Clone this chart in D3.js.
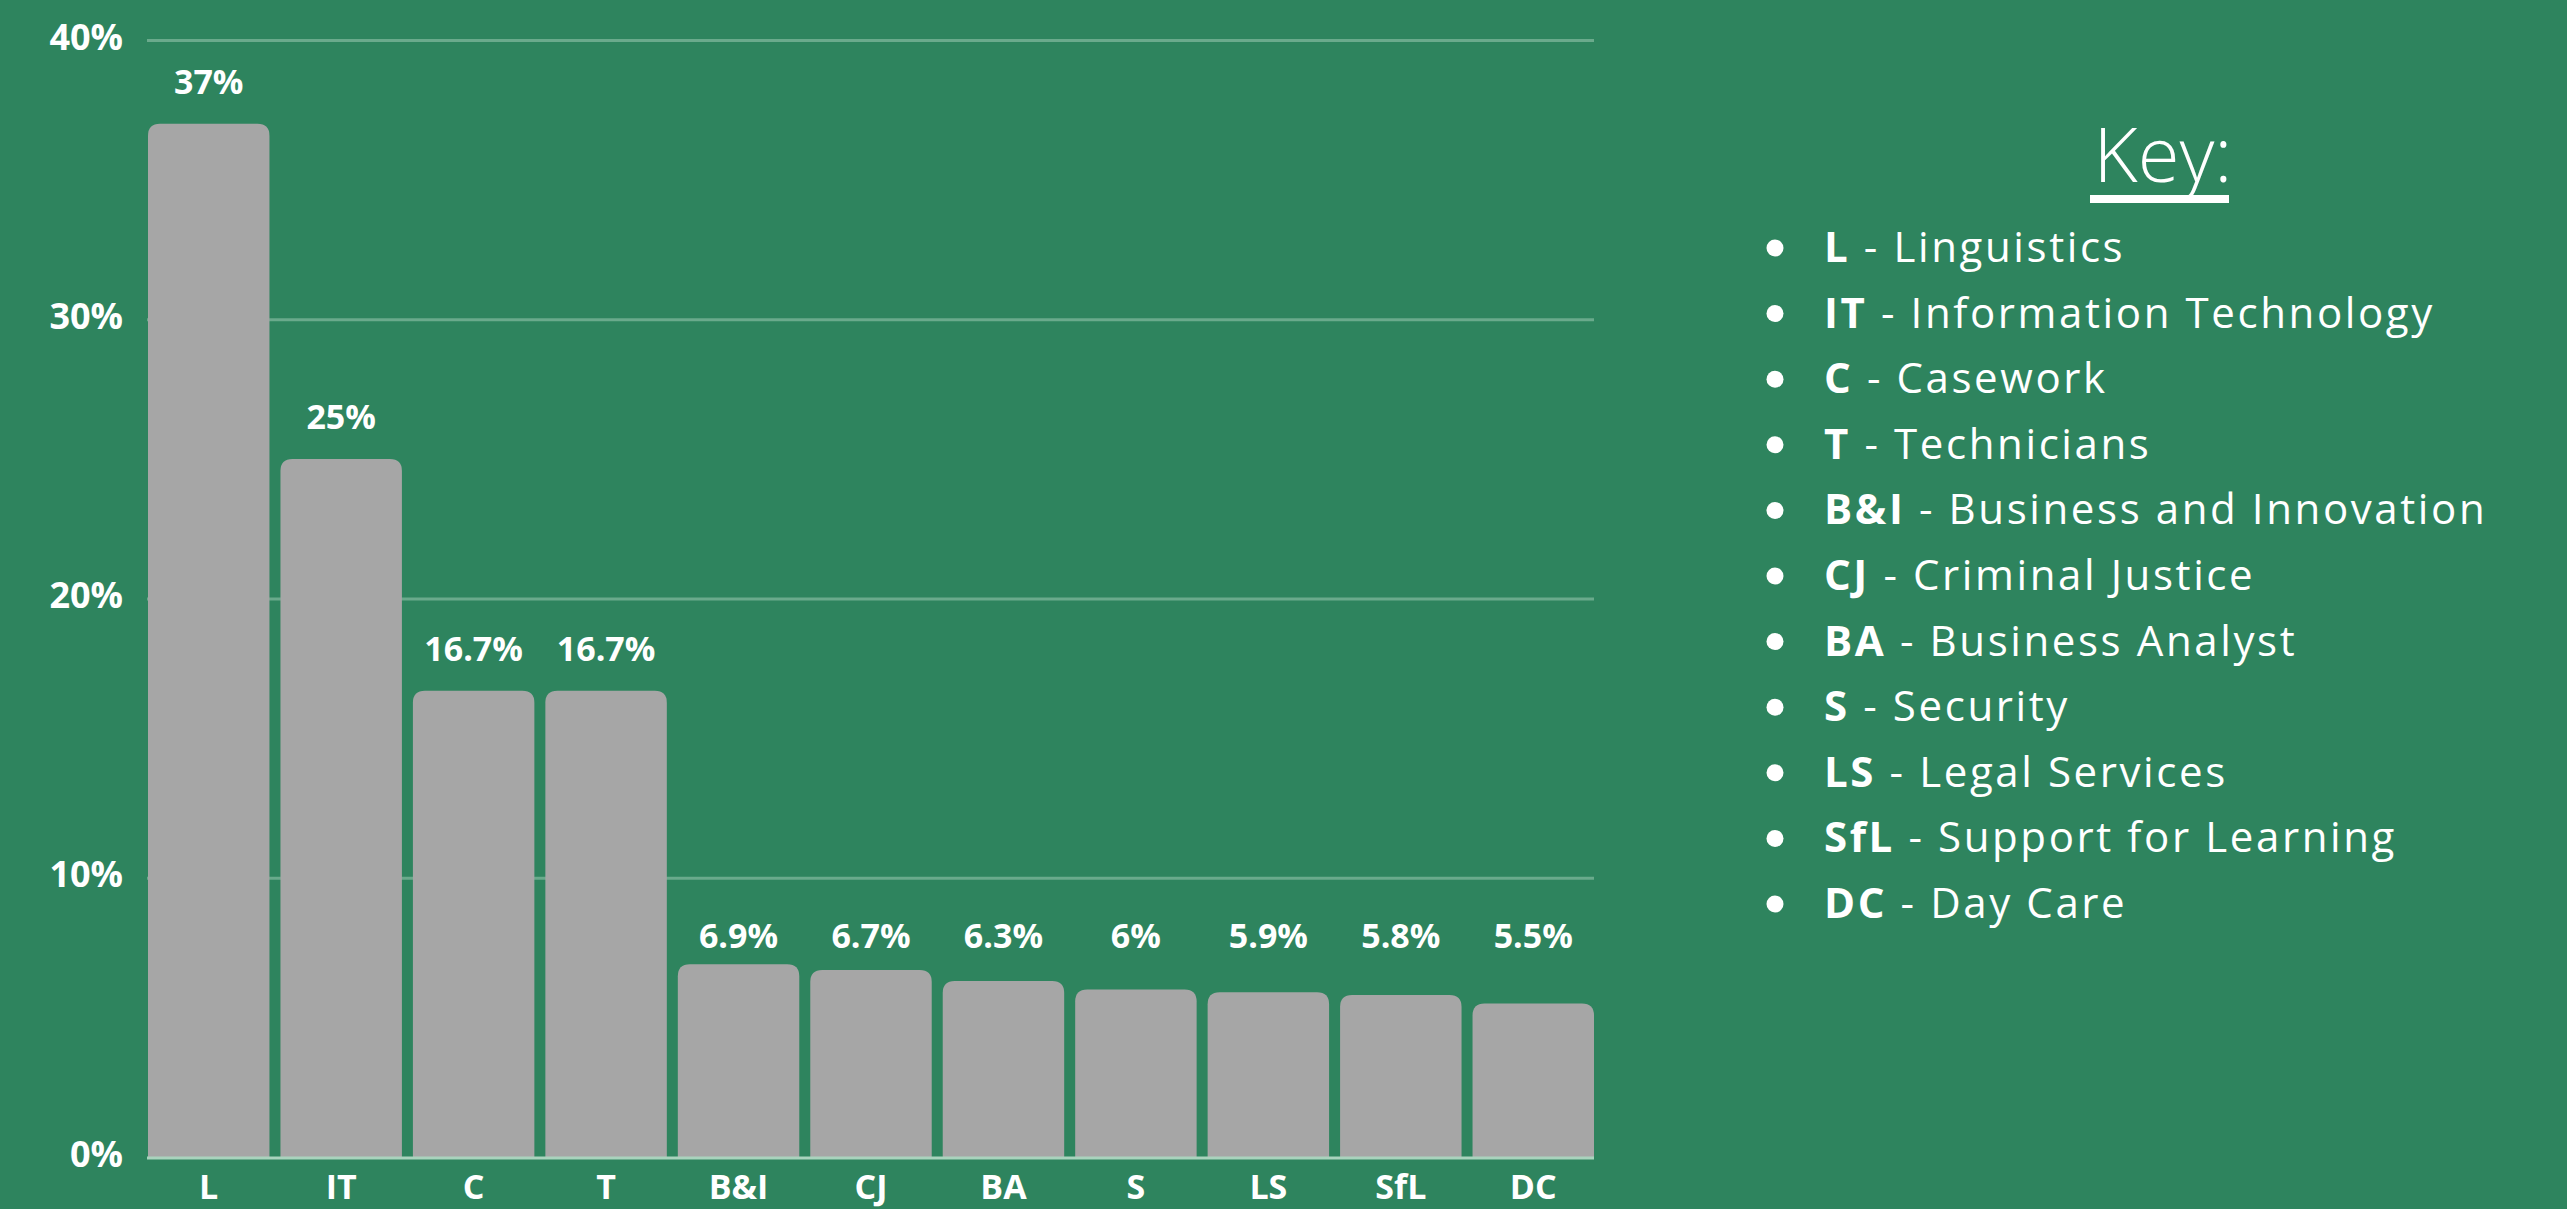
<!DOCTYPE html>
<html>
<head>
 <title>Roles chart</title>
 <script src="https://cdn.jsdelivr.net/npm/d3@7"></script>
 <style>
   body { margin: 0; background: #2e845e; }
   svg { display: block; }
 </style>
</head>
<body>
 <svg id="chart" width="2567" height="1209"></svg>
 <script>
   // chart data
   const categories = ["L", "IT", "C", "T", "B&I", "CJ", "BA", "S", "LS", "SfL", "DC"];
   const values = [37, 25, 16.7, 16.7, 6.9, 6.7, 6.3, 6, 5.9, 5.8, 5.5];
   const valueLabels = ["37%", "25%", "16.7%", "16.7%", "6.9%", "6.7%", "6.3%", "6%", "5.9%", "5.8%", "5.5%"];
   const yTicks = [0, 10, 20, 30, 40];
   const keyNames = ["Linguistics", "Information Technology", "Casework", "Technicians",
     "Business and Innovation", "Criminal Justice", "Business Analyst", "Security",
     "Legal Services", "Support for Learning", "Day Care"];

   const svg = d3.select("#chart");
   const font = "'Open Sans', 'Noto Sans', sans-serif";

   let x = d3.scaleBand()
     .domain(categories)
     .range([148, 1594])
     .paddingInner(0.083)
     .paddingOuter(0);

   let y = d3.scaleLinear()
     .domain([0, 40])
     .range([1157, 40]);

   // gridlines + y labels
   let yAxis = d3.axisLeft(y)
     .tickValues(yTicks)
     .tickSize(-(1594 - 147))
     .tickPadding(24)
     .tickFormat(d => d + "%");

   let gy = svg.append("g")
     .attr("transform", "translate(147,0)")
     .call(yAxis);
   gy.select(".domain").remove();
   gy.selectAll(".tick line")
     .attr("stroke", "#6aaa8c")
     .attr("stroke-width", 3)
     .attr("stroke-opacity", d => d === 0 ? 0 : 1);
   gy.selectAll(".tick text")
     .attr("fill", "#fff")
     .attr("font-family", font)
     .attr("font-weight", 700)
     .attr("font-size", 36)
     .attr("dy", "0.25em");

   // bars with rounded top corners
   function barPath(x0, y0, w, h, r) {
     r = Math.min(r, h, w / 2);
     return `M${x0},${y0 + h}V${y0 + r}Q${x0},${y0} ${x0 + r},${y0}H${x0 + w - r}Q${x0 + w},${y0} ${x0 + w},${y0 + r}V${y0 + h}Z`;
   }

   let data = categories.map((c, i) => ({ c: c, v: values[i], label: valueLabels[i] }));

   svg.selectAll(".bar")
     .data(data)
     .enter()
     .append("path")
     .attr("class", "bar")
     .attr("fill", "#a6a6a6")
     .attr("d", d => barPath(x(d.c), y(d.v), x.bandwidth(), y(0) - y(d.v), 12));

   // baseline
   svg.append("line")
     .attr("x1", 147).attr("x2", 1594)
     .attr("y1", y(0) + 1).attr("y2", y(0) + 1)
     .attr("stroke", "#a9d3bd")
     .attr("stroke-width", 3);

   // value labels, the small bars share one level
   let smallMax = d3.max(values.filter(v => v < 10));
   svg.selectAll(".val")
     .data(data)
     .enter()
     .append("text")
     .attr("class", "val")
     .attr("x", d => x(d.c) + x.bandwidth() / 2)
     .attr("y", d => d.v < 10 ? y(smallMax) - 16 : y(d.v) - 30)
     .attr("text-anchor", "middle")
     .attr("fill", "#fff")
     .attr("font-family", font)
     .attr("font-weight", 700)
     .attr("font-size", 34)
     .text(d => d.label);

   // category labels
   svg.selectAll(".cat")
     .data(data)
     .enter()
     .append("text")
     .attr("class", "cat")
     .attr("x", d => x(d.c) + x.bandwidth() / 2)
     .attr("y", 1199)
     .attr("text-anchor", "middle")
     .attr("fill", "#fff")
     .attr("font-family", font)
     .attr("font-weight", 700)
     .attr("font-size", 34)
     .text(d => d.c);

   // key
   let key = svg.append("g");
   key.append("text")
     .attr("x", 2163)
     .attr("y", 182)
     .attr("text-anchor", "middle")
     .attr("fill", "#fff")
     .attr("font-family", font)
     .attr("font-weight", 300)
     .attr("font-size", 76)
     .text("Key:");
   key.append("rect")
     .attr("x", 2090).attr("y", 195)
     .attr("width", 139).attr("height", 8)
     .attr("fill", "#fff");

   let items = key.selectAll(".item")
     .data(categories)
     .enter()
     .append("g")
     .attr("class", "item")
     .attr("transform", (d, i) => `translate(0,${262 + i * 65.6})`);

   items.append("circle")
     .attr("cx", 1775)
     .attr("cy", -14)
     .attr("r", 8.5)
     .attr("fill", "#fff");

   let t = items.append("text")
     .attr("x", 1824)
     .attr("fill", "#fff")
     .attr("font-family", font)
     .attr("font-size", 42)
     .attr("letter-spacing", 2.6);
   t.append("tspan")
     .attr("font-weight", 700)
     .text(d => d);
   t.append("tspan")
     .attr("font-weight", 400)
     .text((d, i) => " - " + keyNames[i]);
 </script>
</body>
</html>
